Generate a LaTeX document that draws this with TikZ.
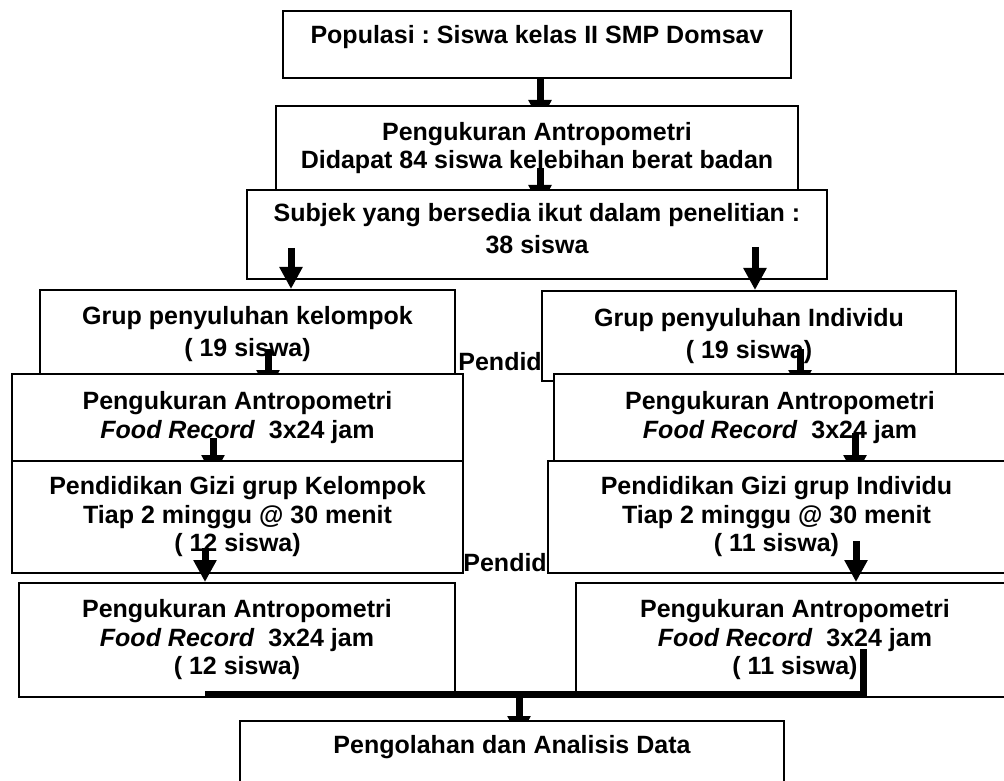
\documentclass[tikz,border=0pt]{standalone}
\usepackage{fontspec}
\setmainfont{Liberation Sans}
\usetikzlibrary{arrows.meta}
\frenchspacing

\begin{document}
\begin{tikzpicture}[
    x=0.5pt, y=-0.5pt,
    font=\fontsize{12.5}{14.25}\selectfont\bfseries,
    stepbox/.style={
        draw,
        fill=white,
        line width=1pt,
        align=center,
        inner sep=0pt
    },
    flow/.style={-{Triangle[width=11pt, length=11pt]}, line width=3.5pt},
    joint/.style={line width=3.5pt},
    note/.style={anchor=west, inner sep=0pt}
]
\useasboundingbox (0,0) rectangle (1004,780);
\clip (0,0) rectangle (1004,780);

\node[stepbox, minimum width=254pt, minimum height=33.5pt, text height=7pt, text depth=8pt] (pop) at (537,44.5)
{Populasi : Siswa kelas II SMP Domsav};

\coordinate (ukur_in) at (540,122);
\draw[flow] ([xshift=1.5pt]pop.south) -- (ukur_in);

\node[stepbox, minimum width=261pt, minimum height=42pt] (ukur) at (537,148)
{Pengukuran Antropometri\\Didapat 84 siswa kelebihan berat badan};

\coordinate (subjek_in) at (540,207);
\draw[flow] ([xshift=1.5pt, yshift=11.5pt]ukur.south) -- (subjek_in);

\node[stepbox, minimum width=290pt, minimum height=44.5pt, text depth=6pt] (subjek) at (537,234.5)
{Subjek yang bersedia ikut dalam penelitian :\\[1.5pt]38 siswa};

\node[note] (pend_a) at (458,362) {Pendidikan};

\node[stepbox, minimum width=207.5pt, minimum height=44pt] (kel_grp) at (247.5,334)
{Grup penyuluhan kelompok\\[2pt]( 19 siswa)};
\node[stepbox, minimum width=207pt, minimum height=45pt] (ind_grp) at (749,336)
{Grup penyuluhan Individu\\[2pt]( 19 siswa)};

\draw[flow] ([xshift=-123pt, yshift=16pt]subjek.south) -- ([xshift=21.75pt]kel_grp.north);
\draw[flow] ([xshift=109pt, yshift=16.5pt]subjek.south) -- ([xshift=3pt]ind_grp.north);

\coordinate (kel_ukur_in) at (268,392);
\coordinate (ind_ukur_in) at (800,392);
\draw[flow] ([xshift=10.25pt, yshift=15pt]kel_grp.south) -- (kel_ukur_in);
\draw[flow] ([xshift=25.5pt, yshift=16.5pt]ind_grp.south) -- (ind_ukur_in);

\node[stepbox, minimum width=225.5pt, minimum height=43.5pt] (kel_ukur) at (237.5,417.5)
{Pengukuran Antropometri\\\textit{Food Record}\ \ 3x24 jam};
\node[stepbox, minimum width=226pt, minimum height=43.5pt] (ind_ukur) at (780,417.5)
{Pengukuran Antropometri\\\textit{Food Record}\ \ 3x24 jam};

\coordinate (kel_gizi_in) at (213,477);
\coordinate (ind_gizi_in) at (855,477);
\draw[flow] ([xshift=-12.25pt, yshift=12pt]kel_ukur.south) -- (kel_gizi_in);
\draw[flow] ([xshift=37.5pt, yshift=14.5pt]ind_ukur.south) -- (ind_gizi_in);

\node[note] (pend_b) at (463,563) {Pendidikan};

\node[stepbox, minimum width=225.5pt, minimum height=56pt] (kel_gizi) at (237.5,517)
{Pendidikan Gizi grup Kelompok\\Tiap 2 minggu @ 30 menit\\( 12 siswa)};
\node[stepbox, minimum width=228.5pt, minimum height=56pt] (ind_gizi) at (776.5,517)
{Pendidikan Gizi grup Individu\\Tiap 2 minggu @ 30 menit\\( 11 siswa)};

\node[stepbox, minimum width=218pt, minimum height=57pt] (kel_akhir) at (237,640)
{Pengukuran Antropometri\\\textit{Food Record}\ \ 3x24 jam\\( 12 siswa)};
\node[stepbox, minimum width=219pt, minimum height=57pt] (ind_akhir) at (795,640)
{Pengukuran Antropometri\\\textit{Food Record}\ \ 3x24 jam\\( 11 siswa)};

\draw[flow] ([xshift=-16.25pt, yshift=13pt]kel_gizi.south) -- ([xshift=-16pt]kel_akhir.north);
\draw[flow] ([xshift=39.75pt, yshift=16.5pt]ind_gizi.south) -- ([xshift=30.5pt]ind_akhir.north);

% gabung kedua grup
\draw[joint] ([xshift=34pt, yshift=24.5pt]ind_akhir.south) |- ([xshift=-16pt, yshift=1.75pt]kel_akhir.south);

\coordinate (merge) at (519,693.5);
\coordinate (olah_in) at (519,738);
\draw[flow] (merge) -- (olah_in);

\node[stepbox, minimum width=272pt, minimum height=30.5pt, text height=7pt, text depth=5pt] (olah) at (512,751.5)
{Pengolahan dan Analisis Data};

\end{tikzpicture}
\end{document}
